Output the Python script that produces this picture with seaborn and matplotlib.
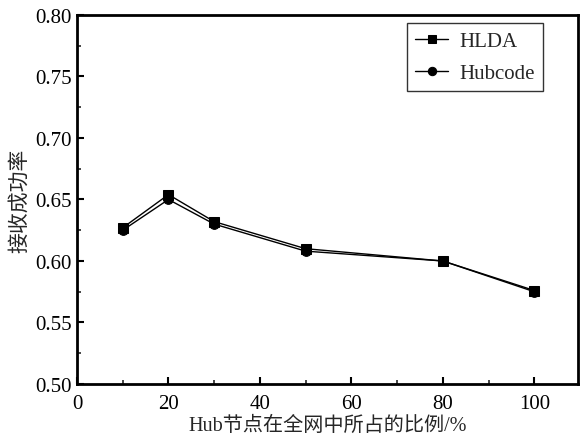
import matplotlib
matplotlib.use("Agg")
import matplotlib.pyplot as plt
import seaborn as sns
import pandas as pd
from matplotlib.ticker import MultipleLocator

ratio = [10, 20, 30, 50, 80, 100]
hlda = [0.627, 0.654, 0.632, 0.610, 0.600, 0.576]
hubcode = [0.625, 0.650, 0.630, 0.608, 0.600, 0.575]

df = pd.DataFrame({
    "ratio": ratio * 2,
    "rate": hlda + hubcode,
    "method": ["HLDA"] * len(ratio) + ["Hubcode"] * len(ratio),
})

sns.set_style("ticks")
plt.rcParams['font.family'] = ['Liberation Serif', 'Noto Sans CJK SC']
plt.rcParams['xtick.direction'] = 'in'
plt.rcParams['ytick.direction'] = 'in'

fig = plt.figure(figsize=(5.81, 4.39), dpi=100)
ax = fig.add_axes([0.1325, 0.123, 0.862, 0.8406])

sns.lineplot(data=df, x="ratio", y="rate", hue="method", style="method",
             palette=["black", "black"], markers=["s", "o"], dashes=False,
             markersize=7, linewidth=1.0, markeredgecolor="black", ax=ax)

ax.set_xlim(0, 109.5)
ax.set_ylim(0.50, 0.80)
ax.xaxis.set_major_locator(MultipleLocator(20))
ax.xaxis.set_minor_locator(MultipleLocator(10))
ax.yaxis.set_major_locator(MultipleLocator(0.05))
ax.yaxis.set_minor_locator(MultipleLocator(0.025))
ax.yaxis.set_major_formatter(matplotlib.ticker.FormatStrFormatter('%.2f'))
ax.tick_params(which='major', length=5, width=1.5, labelsize=15, colors='black')
ax.tick_params(which='minor', length=3, width=1.2)
ax.tick_params(axis='x', which='major', pad=7)
for s in ax.spines.values():
    s.set_linewidth(2)
    s.set_color('black')

ax.set_xlabel("Hub节点在全网中所占的比例/%", fontsize=14.5, labelpad=2)
ax.set_ylabel("接收成功率", fontsize=15, labelpad=4)

leg = ax.legend(loc="upper right", bbox_to_anchor=(0.93, 0.978), fontsize=15,
                frameon=True, fancybox=False, edgecolor='black',
                borderaxespad=0, handlelength=1.6, handletextpad=0.5,
                borderpad=0.4, labelspacing=0.6)
leg.get_frame().set_linewidth(1.0)
for h in leg.legend_handles:
    h.set_markersize(6)

fig.savefig("out.png", dpi=100)
